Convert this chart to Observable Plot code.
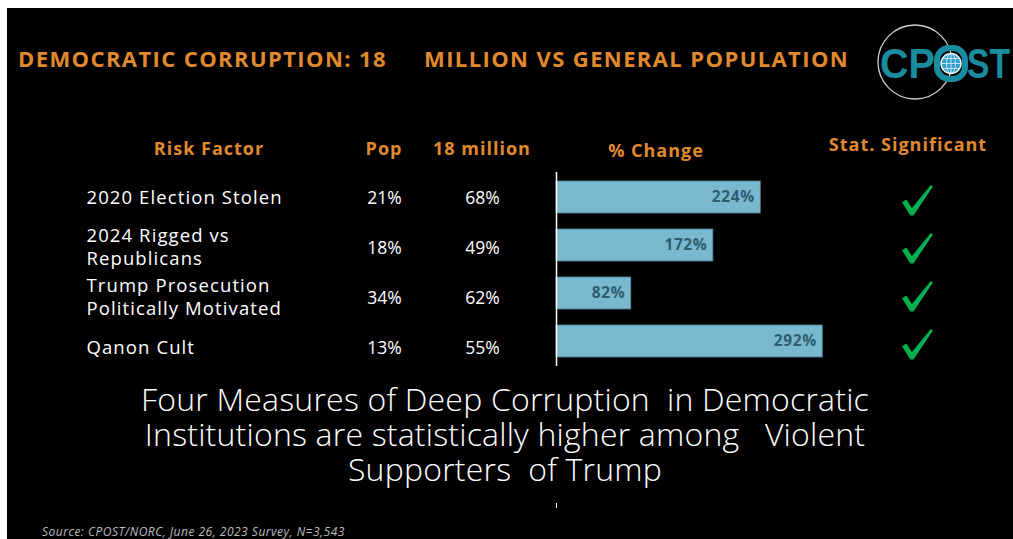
<!DOCTYPE html>
<html>
<head>
<meta charset="utf-8">
<script src="https://cdn.jsdelivr.net/npm/d3@7"></script>
<script src="https://cdn.jsdelivr.net/npm/@observablehq/plot@0.6"></script>
<style>
  html, body { margin: 0; padding: 0; background: #fff; width: 1013px; height: 539px; overflow: hidden; }
  #slide { position: absolute; left: 7px; top: 8px; width: 1006px; height: 531px; background: #000; overflow: hidden; font-family: "Open Sans", sans-serif; }
  .abs { position: absolute; white-space: pre; }
  .title { color: #E0892F; font-weight: 700; font-size: 22px; line-height: 24px; letter-spacing: 1.4px; }
  .hdr { color: #E0892F; font-weight: 700; font-size: 18px; line-height: 20px; text-align: center; width: 220px; letter-spacing: 1px; }
  .caption { color: #fff; font-weight: 300; font-size: 32px; line-height: 35px; text-align: center; width: 900px; letter-spacing: 0.2px; }
  .source { color: #bbb; font-style: italic; font-size: 12px; line-height: 13px; letter-spacing: 0.5px; }
  .col { position: absolute; }
  .wide text { letter-spacing: 1.1px; }
  .barlab text { letter-spacing: 0.6px; }
</style>
</head>
<body>
<div id="slide"></div>
<script>
// ---- data ----
const titleParts = ["DEMOCRATIC CORRUPTION: 18", "MILLION VS GENERAL POPULATION"];
const headers = ["Risk Factor", "Pop", "18 million", "% Change", "Stat. Significant"];
const factors = ["2020 Election Stolen", "2024 Rigged vs\nRepublicans", "Trump Prosecution\nPolitically Motivated", "Qanon Cult"];
const popValues = [21, 18, 34, 13];
const millionValues = [68, 49, 62, 55];
const changeValues = [224, 172, 82, 292];
const significant = [true, true, true, true];
const captionLines = ["Four Measures of Deep Corruption  in Democratic", "Institutions are statistically higher among   Violent", "Supporters  of Trump"];
const sourceText = "Source: CPOST/NORC, June 26, 2023 Survey, N=3,543";

const rows = factors.map((f, i) => ({factor: f, pop: popValues[i], million: millionValues[i], change: changeValues[i], sig: significant[i]}));

const slide = document.getElementById("slide");
const OX = 7, OY = 8;
function place(el, x, y) { el.style.left = (x - OX) + "px"; el.style.top = (y - OY) + "px"; slide.appendChild(el); return el; }
function div(cls, text) { const d = document.createElement("div"); d.className = "abs " + cls; d.textContent = text; return d; }

// title
place(div("title", titleParts[0]), 18, 46);
place(div("title", titleParts[1]), 424, 46);

// logo
const logo = document.createElementNS("http://www.w3.org/2000/svg", "svg");
logo.setAttribute("width", 143); logo.setAttribute("height", 90);
logo.style.position = "absolute";
logo.innerHTML = `
  <circle cx="45" cy="45" r="37" fill="none" stroke="#cfcfcf" stroke-width="1.3"/>
  <text transform="translate(10,61) scale(0.94,1)" font-family="Liberation Sans, Arial, sans-serif" font-weight="700" font-size="42" fill="#1A8CA0">CP</text>
  <rect x="67" y="31" width="28" height="31" rx="12" fill="none" stroke="#1A8CA0" stroke-width="6"/>
  <circle cx="81" cy="46.5" r="10" fill="#2f9fd0" stroke="#e8f4f8" stroke-width="1.5"/>
  <g stroke="#e8f4f8" stroke-width="0.8" fill="none">
    <ellipse cx="81" cy="46.5" rx="4.5" ry="10"/>
    <line x1="81" y1="36.5" x2="81" y2="56.5"/>
    <line x1="71" y1="46.5" x2="91" y2="46.5"/>
    <line x1="73" y1="41.5" x2="89" y2="41.5"/>
    <line x1="73" y1="51.5" x2="89" y2="51.5"/>
  </g>
  <text transform="translate(97,61) scale(0.8,1)" font-family="Liberation Sans, Arial, sans-serif" font-weight="700" font-size="42" fill="#1A8CA0">ST</text>`;
place(logo, 870, 17);

// headers
const hdrX = [209, 384, 482, 656, 908];
const hdrY = [148, 148, 148, 150, 144];
headers.forEach((h, i) => { const d = div("hdr", h); place(d, hdrX[i] - 110, hdrY[i] - 10); });

const fontFam = "Open Sans, sans-serif";
const baseStyle = {background: "transparent", color: "white", fontFamily: fontFam, overflow: "visible"};

function textColumn(channel, opts, width, fontSize) {
  return Plot.plot({
    width, height: 202, margin: 0, style: baseStyle,
    y: {domain: factors, axis: null},
    x: {axis: null},
    marks: [Plot.text(rows, {y: "factor", text: channel, fill: "white", fontSize, lineHeight: 1.25, ...opts})]
  });
}
function col(el, x, y) { el.classList.add("col"); el.style.position = "absolute"; return place(el, x, y); }

const lab = col(textColumn("factor", {frameAnchor: "left", textAnchor: "start"}, 260, 18.5), 86, 170);
lab.classList.add("wide");
col(textColumn(d => d.pop + "%", {}, 80, 17.5), 344, 170);
col(textColumn(d => d.million + "%", {}, 80, 17.5), 442, 170);

// bars
const pxPerPct = 0.912;
const xMax = 320;
const bars = Plot.plot({
  width: xMax * pxPerPct, height: 194, margin: 0, style: baseStyle,
  x: {domain: [0, xMax], axis: null},
  y: {domain: factors, axis: null, paddingInner: 0.34, paddingOuter: 0.17},
  marks: [
    Plot.barX(rows, {x: "change", y: "factor", fill: "#7AB8D0", stroke: "#4f8296", strokeWidth: 0.8}),
    Plot.text(rows, {x: "change", y: "factor", text: d => d.change + "%", textAnchor: "end", dx: -6, fill: "#2F5E71", fontWeight: "bold", fontSize: 15.5}),
    Plot.ruleX([0], {stroke: "white", strokeWidth: 1.5})
  ]
});
bars.classList.add("barlab");
col(bars, 556, 172);

// check marks (custom symbol)
const checkSymbol = {
  draw(context, size) {
    const r = Math.sqrt(size / Math.PI);
    const pts = [[-1.0, 0.12], [-0.72, -0.06], [-0.36, 0.48], [0.86, -1.0], [1.0, -0.9], [-0.26, 0.96], [-0.46, 0.96]];
    context.moveTo(pts[0][0] * r, pts[0][1] * r);
    for (let i = 1; i < pts.length; i++) context.lineTo(pts[i][0] * r, pts[i][1] * r);
    context.closePath();
  }
};
const checks = Plot.plot({
  width: 100, height: 194, margin: 0, style: baseStyle,
  y: {domain: factors, axis: null},
  marks: [Plot.dot(rows.filter(d => d.sig), {y: "factor", symbol: checkSymbol, r: 15.5, fill: "#00B050", stroke: "none", dy: 3})]
});
col(checks, 867, 172);

// caption
const cap = div("caption", captionLines.join("\n"));
place(cap, 505 - 450, 381);

// stray tick
const tick = document.createElement("div");
tick.style.cssText = "position:absolute;width:1px;height:5px;background:#fff";
place(tick, 556, 503);

// source
place(div("source", sourceText), 42, 525);
</script>
</body>
</html>
